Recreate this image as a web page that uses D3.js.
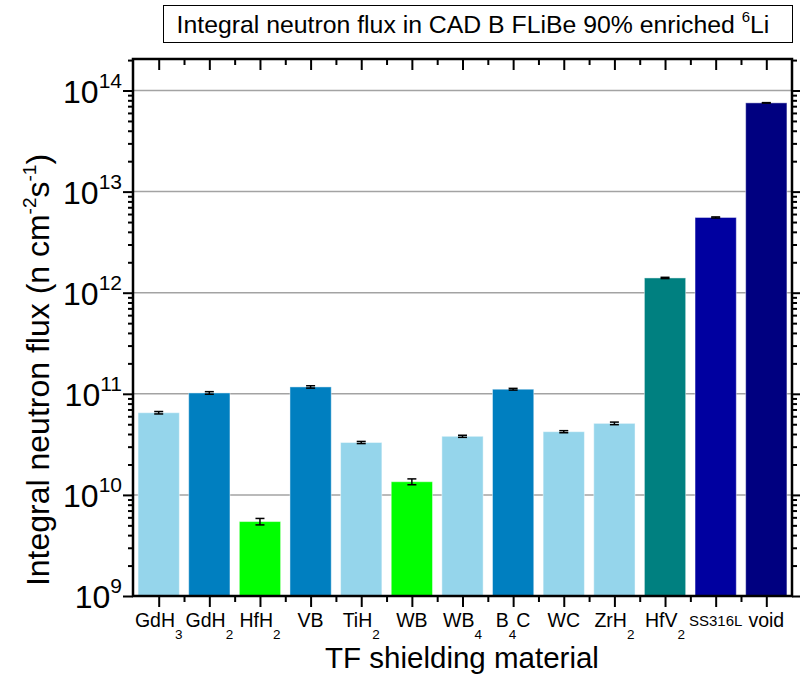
<!DOCTYPE html>
<html>
<head>
<meta charset="utf-8">
<script src="https://cdn.jsdelivr.net/npm/d3@7"></script>
<style>
  html, body { margin: 0; padding: 0; background: #fff; }
  svg { display: block; font-family: "Liberation Sans", Arial, sans-serif; }
</style>
</head>
<body>
<svg id="chart" width="800" height="677"></svg>
<script>
// Materials along the x axis; "_n" marks a subscript digit.
const categories = ["GdH_3", "GdH_2", "HfH_2", "VB", "TiH_2", "WB", "WB_4", "B_4C", "WC", "ZrH_2", "HfV_2", "SS316L", "void"];
// Integral neutron flux (n cm^-2 s^-1) and its statistical uncertainty
const fluxValues = [6.5e10, 1.02e11, 5.45e9, 1.17e11, 3.3e10, 1.35e10, 3.8e10, 1.11e11, 4.22e10, 5.1e10, 1.40e12, 5.55e12, 7.55e13];
const fluxErrors = [0.18e10, 0.30e10, 0.40e9, 0.32e10, 0.08e10, 0.09e10, 0.09e10, 0.22e10, 0.10e10, 0.15e10, 0.02e12, 0.07e12, 0.04e13];
const barColors = ["#95d5eb", "#007fc0", "#00ff00", "#007fc0", "#95d5eb", "#00ff00", "#95d5eb", "#007fc0", "#95d5eb", "#95d5eb", "#008080", "#0000a0", "#000080"];
// Decade ticks of the logarithmic y axis
const yTickExponents = [9, 10, 11, 12, 13, 14];

const svg = d3.select("#chart");
const plot = { left: 133, right: 792, top: 59, bottom: 596 };

const x = d3.scaleBand()
  .domain(categories)
  .range([plot.left, plot.right])
  .paddingInner(0.185)
  .paddingOuter(0.1);

const y = d3.scaleLog()
  .domain([1e9, 2.05e14])
  .range([plot.bottom, plot.top]);

// Horizontal grid lines at each decade
svg.append("g")
  .selectAll("line")
  .data(yTickExponents.filter(e => e > 9))
  .join("line")
  .attr("x1", plot.left).attr("x2", plot.right)
  .attr("y1", e => y(Math.pow(10, e))).attr("y2", e => y(Math.pow(10, e)))
  .attr("stroke", "#a3a3a3").attr("stroke-width", 1.5);

// Bars
svg.append("g")
  .selectAll("rect")
  .data(categories)
  .join("rect")
  .attr("x", d => x(d))
  .attr("width", x.bandwidth())
  .attr("y", (d, i) => y(fluxValues[i]))
  .attr("height", (d, i) => plot.bottom - y(fluxValues[i]))
  .attr("fill", (d, i) => barColors[i])
  .attr("stroke", "#ffffff").attr("stroke-opacity", 0.45).attr("stroke-width", 1);

// Error bars
const errG = svg.append("g").attr("stroke", "#000").attr("stroke-width", 1.5);
categories.forEach((c, i) => {
  const cx = x(c) + x.bandwidth() / 2;
  const lo = y(fluxValues[i] - fluxErrors[i]);
  const hi = y(fluxValues[i] + fluxErrors[i]);
  errG.append("line").attr("x1", cx).attr("x2", cx).attr("y1", lo).attr("y2", hi);
  errG.append("line").attr("x1", cx - 4.5).attr("x2", cx + 4.5).attr("y1", lo).attr("y2", lo);
  errG.append("line").attr("x1", cx - 4.5).attr("x2", cx + 4.5).attr("y1", hi).attr("y2", hi);
});

// Minor log ticks (2..9 in each decade)
const minorValues = [];
yTickExponents.forEach(e => {
  for (let k = 2; k <= 9; k++) { const v = k * Math.pow(10, e); if (v <= y.domain()[1]) minorValues.push(v); }
});
const majorValues = yTickExponents.map(e => Math.pow(10, e));

function styleAxis(g) {
  g.selectAll(".domain").remove();
  g.selectAll(".tick line").attr("stroke", "#000").attr("stroke-width", 2);
  g.selectAll(".tick text").remove();
}

// Left axis
svg.append("g").attr("transform", `translate(${plot.left},0)`)
  .call(d3.axisLeft(y).tickValues(majorValues).tickSize(10)).call(styleAxis);
svg.append("g").attr("transform", `translate(${plot.left},0)`)
  .call(d3.axisLeft(y).tickValues(minorValues).tickSize(5)).call(styleAxis);
// Right axis
svg.append("g").attr("transform", `translate(${plot.right},0)`)
  .call(d3.axisRight(y).tickValues(majorValues).tickSize(10)).call(styleAxis);
svg.append("g").attr("transform", `translate(${plot.right},0)`)
  .call(d3.axisRight(y).tickValues(minorValues).tickSize(5)).call(styleAxis);

// Bottom axis: major ticks on bar centres, minor ticks between bars
const xCenter = d => x(d) + x.bandwidth() / 2;
const minorX = categories.slice(0, -1).map((c, i) => (xCenter(c) + xCenter(categories[i + 1])) / 2);
const xLin = d3.scaleLinear().domain([plot.left, plot.right]).range([plot.left, plot.right]);
svg.append("g").attr("transform", `translate(0,${plot.bottom})`)
  .call(d3.axisBottom(xLin).tickValues(categories.map(xCenter)).tickSize(11)).call(styleAxis);
svg.append("g").attr("transform", `translate(0,${plot.bottom})`)
  .call(d3.axisBottom(xLin).tickValues(minorX).tickSize(6)).call(styleAxis);
// Top axis, ticks pointing into the plot
svg.append("g").attr("transform", `translate(0,${plot.top})`)
  .call(d3.axisBottom(xLin).tickValues(categories.map(xCenter)).tickSize(11)).call(styleAxis);
svg.append("g").attr("transform", `translate(0,${plot.top})`)
  .call(d3.axisBottom(xLin).tickValues(minorX).tickSize(6)).call(styleAxis);

// Frame
svg.append("rect")
  .attr("x", plot.left).attr("y", plot.top)
  .attr("width", plot.right - plot.left).attr("height", plot.bottom - plot.top)
  .attr("fill", "none").attr("stroke", "#000").attr("stroke-width", 2.5);

// Y tick labels: 10 with superscript exponent
const yLab = svg.append("g").attr("fill", "#000");
yTickExponents.forEach(e => {
  const t = yLab.append("text")
    .attr("x", 122).attr("y", y(Math.pow(10, e)) + 12)
    .attr("text-anchor", "end").attr("font-size", 32);
  t.append("tspan").text("10");
  t.append("tspan").attr("font-size", 21).attr("dy", -15).text(String(e));
});

// X tick labels with subscripts
const xLab = svg.append("g").attr("fill", "#000");
categories.forEach(c => {
  const t = xLab.append("text")
    .attr("x", xCenter(c)).attr("y", 627)
    .attr("text-anchor", "middle").attr("font-size", 19.5);
  if (c === "SS316L") {
    t.attr("font-size", 15).attr("y", 626).text(c);
    return;
  }
  const parts = c.split(/_(\d)/);
  let shifted = 0;
  parts.forEach((p, k) => {
    if (p === "") return;
    if (k % 2 === 1) {
      t.append("tspan").attr("font-size", 13.5).attr("dy", 12 - shifted).text(p);
      shifted = 12;
    } else {
      t.append("tspan").attr("dy", -shifted).text(p);
      shifted = 0;
    }
  });
});

// Axis titles
svg.append("text")
  .attr("x", 462).attr("y", 668)
  .attr("text-anchor", "middle").attr("font-size", 29.5)
  .text("TF shielding material");

const yt = svg.append("text")
  .attr("transform", "translate(49,370) rotate(-90)")
  .attr("text-anchor", "middle").attr("font-size", 32);
yt.append("tspan").text("Integral neutron flux (n cm");
yt.append("tspan").attr("font-size", 19).attr("dy", -13).text("-2");
yt.append("tspan").attr("dy", 13).text("s");
yt.append("tspan").attr("font-size", 19).attr("dy", -13).text("-1");
yt.append("tspan").attr("dy", 13).text(")");

// Title box
svg.append("rect")
  .attr("x", 163.5).attr("y", 5.5).attr("width", 629).attr("height", 37)
  .attr("fill", "#fff").attr("stroke", "#000").attr("stroke-width", 1);
const tt = svg.append("text")
  .attr("x", 473).attr("y", 33)
  .attr("text-anchor", "middle").attr("font-size", 24.8);
tt.append("tspan").text("Integral neutron flux in CAD B FLiBe 90% enriched ");
tt.append("tspan").attr("font-size", 15).attr("dy", -11).text("6");
tt.append("tspan").attr("dy", 11).text("Li");
</script>
</body>
</html>
